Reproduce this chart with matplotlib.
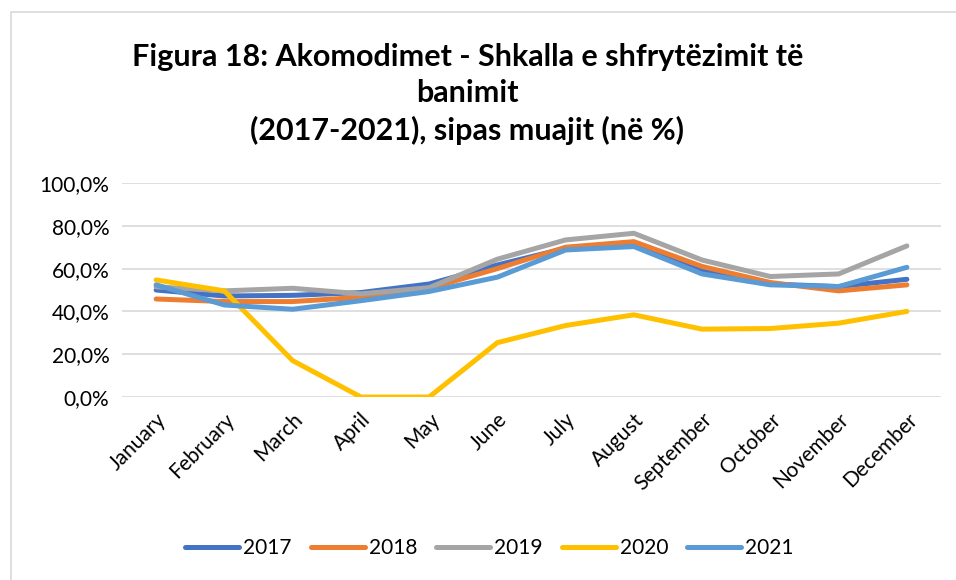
import matplotlib
matplotlib.use('Agg')
from matplotlib import pyplot as plt
from matplotlib.patches import Rectangle
from matplotlib.ticker import FuncFormatter

plt.rcParams['font.family'] = ['Lato', 'DejaVu Sans']

# data (% occupancy)
months = ['January', 'February', 'March', 'April', 'May', 'June', 'July',
          'August', 'September', 'October', 'November', 'December']
y2017 = [50.0, 47.2, 47.5, 48.8, 52.8, 61.7, 69.5, 71.5, 59.4, 52.8, 51.6, 55.0]
y2018 = [45.8, 44.6, 44.6, 46.6, 50.8, 60.0, 70.0, 72.6, 61.0, 53.5, 49.6, 52.4]
y2019 = [51.5, 49.6, 50.8, 48.2, 51.1, 64.4, 73.4, 76.5, 64.0, 56.3, 57.5, 70.6]
y2020 = [54.7, 49.6, 17.0, 0.0, 0.0, 25.4, 33.4, 38.4, 31.7, 32.0, 34.5, 40.0]
y2021 = [52.4, 43.0, 41.0, 45.0, 49.3, 56.0, 68.7, 70.3, 57.5, 52.4, 51.6, 60.6]

series = [('2017', y2017, '#4472C4'),
          ('2018', y2018, '#ED7D31'),
          ('2019', y2019, '#A5A5A5'),
          ('2020', y2020, '#FFC000'),
          ('2021', y2021, '#5B9BD5')]

fig = plt.figure(figsize=(9.56, 5.8), dpi=100)
# light chart border like the excel chart area
fig.patches.append(Rectangle((11/956, -0.01), 1.0, 1 - 12/580 + 0.01,
                             transform=fig.transFigure, fill=False,
                             edgecolor='#D9D9D9', linewidth=1.2))

ax = fig.add_axes([122/956, 1 - 397/580, 819/956, 214/580])

x = range(len(months))
for name, vals, col in series:
    ax.plot(x, vals, color=col, linewidth=3.6, label=name,
            solid_capstyle='round', solid_joinstyle='round')

ax.set_xlim(-0.5, len(months) - 0.5)
ax.set_ylim(0, 100)
ax.set_yticks([0, 20, 40, 60, 80, 100])
ax.yaxis.set_major_formatter(FuncFormatter(lambda v, p: f'{v:.1f}%'.replace('.', ',')))
ax.set_xticks(list(x))
ax.set_xticklabels(months, rotation=45, ha='right', rotation_mode='anchor')
ax.tick_params(axis='both', length=0, labelsize=15, colors='#000000')
ax.tick_params(axis='y', pad=9)
ax.tick_params(axis='x', pad=9)
ax.grid(axis='y', color='#D9D9D9', linewidth=1.2)
ax.set_axisbelow(True)
for s in ax.spines.values():
    s.set_visible(False)

title_lines = ['Figura 18: Akomodimet - Shkalla e shfrytëzimit të',
               'banimit',
               '(2017-2021), sipas muajit (në %)']
for line, ypix in zip(title_lines, [57, 93, 130]):
    fig.text(0.489, 1 - ypix/580, line, ha='center', va='center',
             fontsize=22, fontweight='bold')

fig.legend(loc='center', bbox_to_anchor=(0.512, 1 - 548/580), ncol=5,
           frameon=False, fontsize=15, handlelength=2.6, columnspacing=0.9,
           handletextpad=0.2)

fig.savefig('out.png', dpi=100)
